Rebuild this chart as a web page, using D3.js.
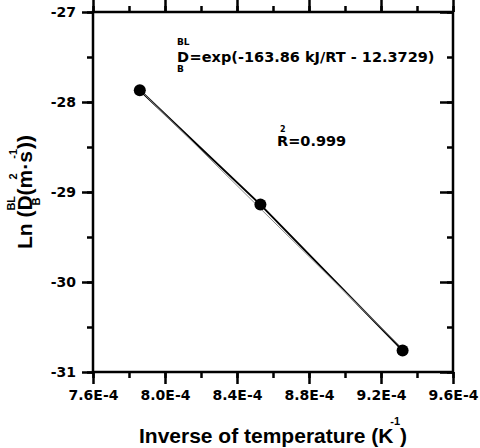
<!DOCTYPE html>
<meta charset="utf-8">
<style>
  body { margin: 0; background: #fff; }
  text { font-family: "DejaVu Sans", sans-serif; font-weight: bold; fill: #000; }
  .title text { font-family: "Liberation Sans", Arial, sans-serif; }
</style>
<svg width="480" height="448"></svg>
<script src="https://d3js.org/d3.v7.min.js"></script>
<script>
  // data: 1/T (K^-1) and ln(D)
  var invT = [7.86e-4, 8.53e-4, 9.32e-4];
  var lnD = [-27.87, -29.14, -30.76];
  // fit: ln D = -163.86 kJ/(RT) - 12.3729
  var slope = -163860 / 8.314, intercept = -12.3729;
  var xTicks = [7.6e-4, 8.0e-4, 8.4e-4, 8.8e-4, 9.2e-4, 9.6e-4];
  var yTicks = [-27, -28, -29, -30, -31];

  var svg = d3.select("svg"),
    pl = 93, pr = 453, pt = 12, pb = 372;

  var x = d3.scaleLinear().domain([7.6e-4, 9.6e-4]).range([pl, pr]);
  var y = d3.scaleLinear().domain([-31, -27]).range([pb, pt]);

  var fmtX = function (d) { return (d * 1e4).toFixed(1) + "E-4"; };

  var xMinor = d3.range(0, 11).map(function (i) { return 7.6e-4 + i * 0.2e-4; });
  var yMinor = d3.range(0, 9).map(function (i) { return -31 + i * 0.5; });

  // minor ticks first, then major with labels
  function ax(axis, tr) {
    var g = svg.append("g").attr("transform", tr).call(axis);
    g.select(".domain").remove();
    g.selectAll("line").attr("stroke", "#000").attr("stroke-width", 2.5);
    g.selectAll("text").attr("font-size", 14).style("font-family", "DejaVu Sans").style("font-weight", "bold");
    return g;
  }
  ax(d3.axisBottom(x).tickValues(xMinor).tickSize(6).tickFormat(""), "translate(0," + pb + ")");
  ax(d3.axisBottom(x).tickValues(xTicks).tickSize(12).tickPadding(6).tickFormat(fmtX), "translate(0," + pb + ")");
  ax(d3.axisTop(x).tickValues(xMinor).tickSize(6).tickFormat(""), "translate(0," + pt + ")");
  ax(d3.axisTop(x).tickValues(xTicks).tickSize(12).tickFormat(""), "translate(0," + pt + ")");
  ax(d3.axisLeft(y).tickValues(yMinor).tickSize(6).tickFormat(""), "translate(" + pl + ",0)");
  ax(d3.axisLeft(y).tickValues(yTicks).tickSize(11).tickPadding(6).tickFormat(function (d) { return String(d); }), "translate(" + pl + ",0)");
  ax(d3.axisRight(y).tickValues(yMinor).tickSize(-6).tickFormat(""), "translate(" + pr + ",0)");
  ax(d3.axisRight(y).tickValues(yTicks).tickSize(-13).tickFormat(""), "translate(" + pr + ",0)");

  svg.append("rect")
    .attr("x", pl).attr("y", pt)
    .attr("width", pr - pl).attr("height", pb - pt)
    .attr("fill", "none").attr("stroke", "#000").attr("stroke-width", 2.5);

  // fit line (grey) and data line (black)
  var pts = invT.map(function (d, i) { return [d, lnD[i]]; });
  var line = d3.line().x(function (d) { return x(d[0]); }).y(function (d) { return y(d[1]); });
  svg.append("path").datum(pts).attr("d", line)
    .attr("fill", "none").attr("stroke", "#000").attr("stroke-width", 2);
  var fit = [invT[0], invT[2]].map(function (d) { return [d, slope * d + intercept]; });
  svg.append("path").datum(fit).attr("d", line)
    .attr("fill", "none").attr("stroke", "#888").attr("stroke-width", 1);

  svg.selectAll("circle").data(pts).enter().append("circle")
    .attr("cx", function (d) { return x(d[0]); })
    .attr("cy", function (d) { return y(d[1]); })
    .attr("r", 6).attr("fill", "#000");

  // lays out text pieces one after another; "stack" pieces sit over the previous
  // piece (shifted by dx), the next normal piece goes after the widest of them
  function rich(g, parts) {
    var cx = 0, prevX = 0;
    parts.forEach(function (p) {
      var px = p.stack ? prevX + (p.dx || 0) : cx;
      var t = g.append("text").attr("x", px).attr("y", p.dy || 0)
        .attr("font-size", p.size).text(p.t);
      var w = t.node().getComputedTextLength();
      if (p.stack) { cx = Math.max(cx, px + w); }
      else { prevX = px; cx = px + w; }
    });
    return cx;
  }

  var eq = svg.append("g").attr("transform", "translate(177,62)");
  rich(eq, [
    { t: "D", size: 14.5 },
    { t: "BL", size: 9, dy: -17, stack: true },
    { t: "B", size: 9, dy: 10, stack: true },
    { t: "=exp(-163.86 kJ/RT - 12.3729)", size: 14.5 }
  ]);

  var r2 = svg.append("g").attr("transform", "translate(277,146)");
  rich(r2, [
    { t: "R", size: 14.5 },
    { t: "2", size: 8, dy: -14, dx: 3, stack: true },
    { t: "=0.999", size: 14.5 }
  ]);

  // x title
  var xt = svg.append("g").attr("class", "title");
  var wx = rich(xt, [
    { t: "Inverse of temperature (", size: 21 },
    { t: "K", size: 21 },
    { t: "-1", size: 11, dy: -18, dx: 12, stack: true },
    { t: ")", size: 21 }
  ]);
  xt.attr("transform", "translate(" + ((pl + pr) / 2 - wx / 2) + ",443)");

  // y title
  var yt = svg.append("g").attr("class", "title");
  var wy = rich(yt, [
    { t: "Ln (", size: 21 },
    { t: "D", size: 21 },
    { t: "BL", size: 11, dy: -17, stack: true },
    { t: "B", size: 11, dy: 8, dx: 5, stack: true },
    { t: "(", size: 21 },
    { t: "m", size: 21 },
    { t: "2", size: 11, dy: -15, dx: 9, stack: true },
    { t: "·", size: 21 },
    { t: "s", size: 21 },
    { t: "-1", size: 11, dy: -15, dx: 4, stack: true },
    { t: "))", size: 21 }
  ]);
  yt.attr("transform", "translate(32," + ((pt + pb) / 2 + wy / 2) + ") rotate(-90)");
</script>
